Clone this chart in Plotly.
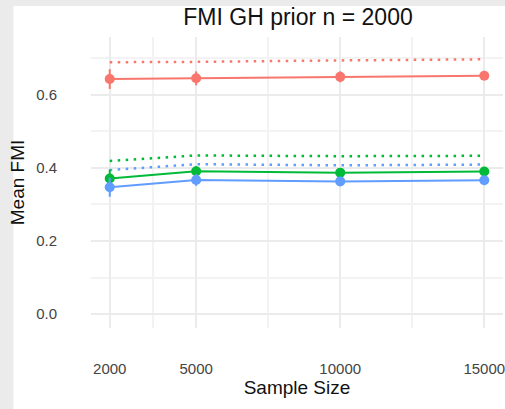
import plotly.graph_objects as go

sample_sizes = [2000, 5000, 10000, 15000]

series_names = ["red", "green", "blue"]
colors = ["#F8766D", "#00BA38", "#619CFF"]

mean_fmi = {
    "red": [0.643, 0.645, 0.649, 0.652],
    "green": [0.371, 0.391, 0.387, 0.390],
    "blue": [0.347, 0.367, 0.363, 0.366],
}
err_fmi = {
    "red": [0.027, 0.019, 0.015, 0.005],
    "green": [0.025, 0.014, 0.008, 0.005],
    "blue": [0.026, 0.016, 0.008, 0.005],
}
ref_fmi = {
    "red": [0.689, 0.690, 0.694, 0.697],
    "green": [0.419, 0.434, 0.432, 0.433],
    "blue": [0.394, 0.410, 0.407, 0.409],
}

x_ticks = [2000, 5000, 10000, 15000]
x_minor = [3500, 7500, 12500]
y_ticks = [0.0, 0.2, 0.4, 0.6]
y_minor = [0.1, 0.3, 0.5, 0.7]

W, H = 505, 409
ML, MR, MT, MB = 91, 0, 37, 81

fig = go.Figure()

for name, col in zip(series_names, colors):
    fig.add_trace(go.Scatter(
        x=sample_sizes, y=ref_fmi[name], mode="lines",
        line=dict(color=col, width=2.5, dash="2.5px,5.5px"),
        showlegend=False, hoverinfo="skip"))

for name, col in zip(series_names, colors):
    fig.add_trace(go.Scatter(
        x=sample_sizes, y=mean_fmi[name], mode="lines+markers",
        line=dict(color=col, width=2),
        marker=dict(color=col, size=10),
        error_y=dict(type="data", array=err_fmi[name], color=col,
                     thickness=2, width=0),
        showlegend=False))

pw = W - ML - MR
ph = H - MT - MB
# white panel background (ggplot canvas inside gray frame)
fig.add_shape(type="rect", xref="paper", yref="paper", layer="below",
              x0=(13 - ML) / pw, x1=1 + 5 / pw,
              y0=-(MB + 5) / ph, y1=1 + (MT - 6) / ph,
              fillcolor="white", line=dict(width=0))

fig.update_layout(
    width=W, height=H,
    margin=dict(l=ML, r=MR, t=MT, b=MB, pad=0),
    paper_bgcolor="#ebebeb", plot_bgcolor="white",
    font=dict(family="Liberation Sans, Arial, sans-serif", color="#444444"),
    title=dict(text="FMI GH prior n = 2000", x=298 / W, xanchor="center",
               y=1 - 17 / H, yanchor="middle",
               font=dict(size=23, color="#111111")),
    showlegend=False,
)

fig.update_xaxes(
    range=[1350, 15650], tickvals=x_ticks, ticktext=[str(v) for v in x_ticks],
    showgrid=True, gridcolor="#ebebeb", gridwidth=1.5, zeroline=False,
    showline=False, ticks="", ticklabelstandoff=30, ticklabeloverflow="allow",
    tickfont=dict(size=15, color="#444444"),
    minor=dict(tickvals=x_minor, showgrid=True, gridcolor="#f3f3f3", gridwidth=1.5),
    title=dict(text="Sample Size", font=dict(size=19, color="#111111"), standoff=4),
)
fig.update_yaxes(
    range=[-0.038, 0.758], tickvals=y_ticks, tickformat=".1f",
    showgrid=True, gridcolor="#ebebeb", gridwidth=1.5, zeroline=False,
    showline=False, ticks="", ticklabelstandoff=33,
    tickfont=dict(size=15, color="#444444"),
    minor=dict(tickvals=y_minor, showgrid=True, gridcolor="#f3f3f3", gridwidth=1.5),
    title=dict(text="Mean FMI", font=dict(size=19, color="#111111"), standoff=6),
)

fig.write_html("out.html")
